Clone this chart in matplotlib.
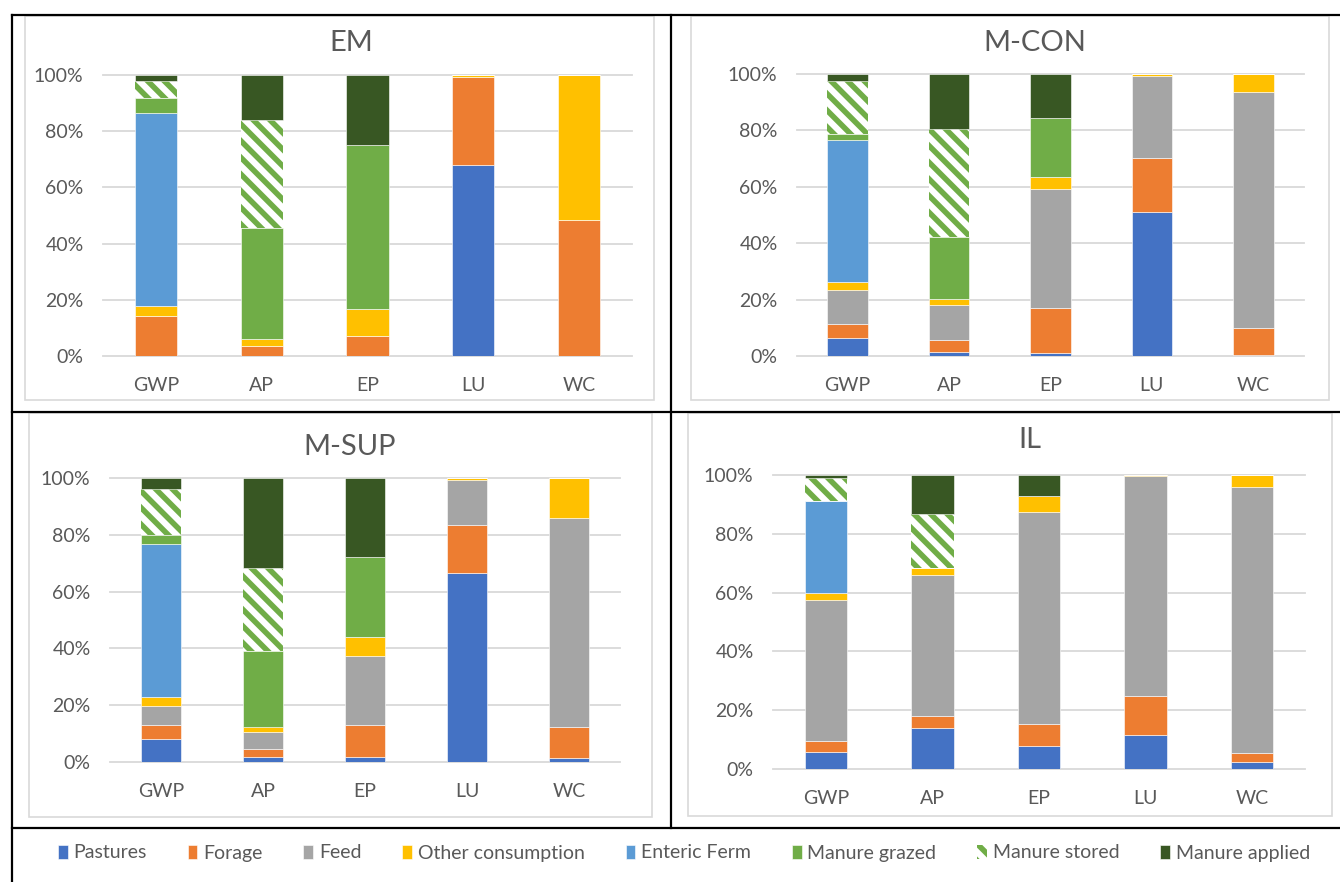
import numpy as np
import matplotlib.pyplot as plt
from matplotlib.lines import Line2D
from matplotlib.patches import Rectangle
from matplotlib.ticker import PercentFormatter

plt.rcParams['font.family'] = ['Lato', 'DejaVu Sans']
plt.rcParams['hatch.linewidth'] = 4.0

# categories and series
categories = ["GWP", "AP", "EP", "LU", "WC"]
series_names = ["Pastures", "Forage", "Feed", "Other consumption",
                "Enteric Ferm", "Manure grazed", "Manure stored", "Manure applied"]
series_colors = ["#4472C4", "#ED7D31", "#A5A5A5", "#FFC000",
                 "#5B9BD5", "#70AD47", "#70AD47", "#385723"]

# shares in % (rows follow series_names, columns follow categories)
em_values = [
    [0, 0, 0, 67.8, 0],
    [14.3, 3.7, 7.1, 31.5, 48.3],
    [0, 0, 0, 0, 0],
    [3.6, 2.3, 9.6, 0.7, 51.7],
    [68.4, 0, 0, 0, 0],
    [5.4, 39.5, 58.3, 0, 0],
    [6.2, 38.6, 0, 0, 0],
    [2.1, 15.9, 25.0, 0, 0],
]
mcon_values = [
    [6.5, 1.5, 1.1, 50.9, 0.5],
    [4.7, 4.2, 15.8, 19.4, 9.5],
    [12.3, 12.5, 42.3, 28.9, 83.7],
    [2.7, 1.9, 4.4, 0.8, 6.3],
    [50.3, 0, 0, 0, 0],
    [2.3, 22.2, 20.8, 0, 0],
    [18.8, 38.3, 0, 0, 0],
    [2.4, 19.4, 15.6, 0, 0],
]
msup_values = [
    [8.2, 1.9, 1.6, 66.4, 1.3],
    [5.0, 2.7, 11.3, 17.2, 11.2],
    [6.4, 5.8, 24.6, 15.7, 73.4],
    [3.4, 2.1, 6.6, 0.7, 14.1],
    [53.7, 0, 0, 0, 0],
    [3.2, 26.5, 28.0, 0, 0],
    [16.2, 29.3, 0, 0, 0],
    [3.9, 31.7, 27.9, 0, 0],
]
il_values = [
    [5.8, 13.8, 7.7, 11.4, 2.3],
    [3.8, 4.1, 7.5, 13.4, 3.1],
    [48.0, 48.0, 72.3, 74.7, 90.6],
    [2.3, 2.6, 5.5, 0.5, 4.0],
    [31.4, 0, 0, 0, 0],
    [0, 0, 0, 0, 0],
    [7.6, 18.1, 0, 0, 0],
    [1.1, 13.4, 7.0, 0, 0],
]

W, H = 1340, 882
TXT = "#595959"
GRID = "#D9D9D9"

fig = plt.figure(figsize=(W / 100, H / 100), dpi=100)


def fbox(x0, y0, x1, y1):
    # pixel box (top-left origin) -> figure fraction rect
    return [x0 / W, 1 - y1 / H, (x1 - x0) / W, (y1 - y0) / H]


# title, values, plot area, chart area, title centre (all in pixels)
panels = [
    ("EM", em_values, (103, 75, 632, 356), (25, 16, 654, 400), (351, 43)),
    ("M-CON", mcon_values, (797, 74, 1304, 356), (691, 16, 1329, 400), (1035, 43)),
    ("M-SUP", msup_values, (110, 478, 620, 762), (29, 413, 652, 817), (350, 447)),
    ("IL", il_values, (773, 475, 1305, 769), (688, 413, 1332, 816), (1030, 440)),
]

handles = []
for title, values, pbox, cbox, tpos in panels:
    # light chart-area frame
    x0, y0, x1, y1 = cbox
    fig.add_artist(Rectangle((x0 / W, 1 - y1 / H), (x1 - x0) / W, (y1 - y0) / H,
                             transform=fig.transFigure, fill=False,
                             edgecolor=GRID, lw=1.2))
    ax = fig.add_axes(fbox(*pbox))
    vals = np.array(values, dtype=float)
    vals = vals / vals.sum(axis=0) * 100
    x = np.arange(len(categories))
    bottom = np.zeros(len(categories))
    hs = []
    for i, name in enumerate(series_names):
        if name == "Manure stored":
            b = ax.bar(x, vals[i], 0.4, bottom=bottom, facecolor="white",
                       edgecolor=series_colors[i], linewidth=0, hatch="\\\\",
                       label=name, zorder=2)
        else:
            b = ax.bar(x, vals[i], 0.4, bottom=bottom, color=series_colors[i],
                       edgecolor="white", linewidth=0.4, label=name, zorder=2)
        hs.append(b)
        bottom += vals[i]
    if not handles:
        handles = hs
    ax.set_xlim(-0.5, len(categories) - 0.5)
    ax.set_ylim(0, 100)
    ax.set_yticks(np.arange(0, 101, 20))
    ax.yaxis.set_major_formatter(PercentFormatter(100, decimals=0))
    ax.set_xticks(x)
    ax.set_xticklabels(categories)
    ax.tick_params(length=0, labelsize=14, colors=TXT)
    ax.tick_params(axis='y', pad=14)
    ax.tick_params(axis='x', pad=15)
    ax.grid(axis='y', color=GRID, lw=1.3)
    for gl in ax.get_ygridlines():
        gl.set_clip_on(False)
    ax.set_axisbelow(True)
    for s in ax.spines.values():
        s.set_visible(False)
    fig.text(tpos[0] / W, 1 - tpos[1] / H, title, ha='center', va='center',
             fontsize=21, color=TXT)

# table borders
border_lines = [
    ((12, 1340), (15, 15)),
    ((12, 1340), (412, 412)),
    ((12, 1340), (828, 828)),
    ((12, 12), (15, 882)),
    ((671, 671), (15, 828)),
]
for xs, ys in border_lines:
    fig.add_artist(Line2D([v / W for v in xs], [1 - v / H for v in ys],
                          transform=fig.transFigure, color="black", lw=1.6))

fig.legend(handles, series_names, loc='center', bbox_to_anchor=(684 / W, 1 - 853 / H),
           ncol=8, frameon=False, fontsize=14, labelcolor=TXT,
           handlelength=0.5, handleheight=0.75, handletextpad=0.3,
           columnspacing=2.1)

fig.savefig("out.png", dpi=100)
